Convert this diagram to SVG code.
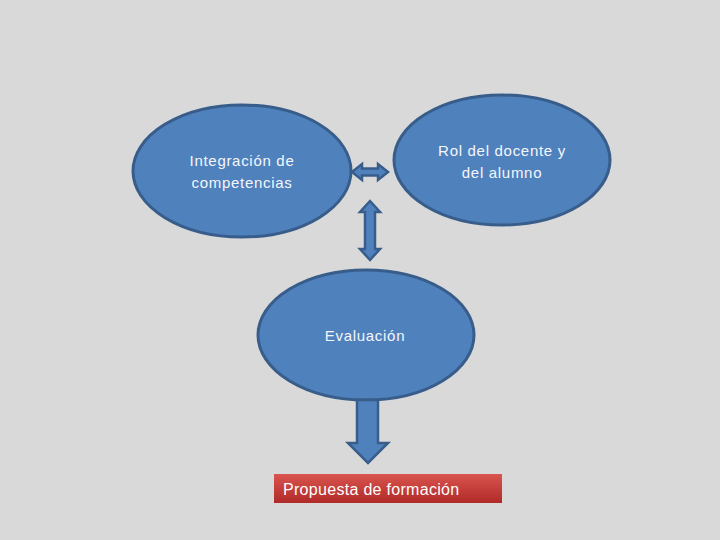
<svg xmlns="http://www.w3.org/2000/svg" width="720" height="540" viewBox="0 0 720 540">
<defs>
<linearGradient id="red" x1="0" y1="0" x2="0" y2="1">
<stop offset="0" stop-color="#d9534f"/>
<stop offset="1" stop-color="#b02a27"/>
</linearGradient>
<style>
.node{fill:#4f81bd;stroke:#385d8a;stroke-width:3}
.arr{fill:#4f81bd;stroke:#385d8a;stroke-width:2.5;stroke-linejoin:miter}
.t{font-family:"Liberation Sans",Arial,sans-serif;font-size:15px;fill:#f4f6fa;text-anchor:middle;letter-spacing:0.7px}
</style>
</defs>
<rect width="720" height="540" fill="#d9d9d9"/>
<g id="integracion">
<ellipse class="node" cx="242" cy="171" rx="109" ry="66"/>
<text class="t" x="242" y="166">Integración de</text>
<text class="t" x="242" y="188">competencias</text>
</g>
<g id="rol">
<ellipse class="node" cx="502" cy="160" rx="108" ry="65"/>
<text class="t" x="502" y="156">Rol del docente y</text>
<text class="t" x="502" y="178">del alumno</text>
</g>
<g id="evaluacion">
<ellipse class="node" cx="366" cy="335" rx="108" ry="65"/>
<text class="t" x="365" y="341">Evaluación</text>
</g>
<g id="propuesta">
<rect x="274" y="474" width="228" height="29" fill="url(#red)"/>
<text x="283" y="495" font-family="'Liberation Sans',Arial,sans-serif" font-size="16" letter-spacing="0.3" fill="#ffffff">Propuesta de formación</text>
</g>
<g id="connectors">
<path class="arr" d="M352,172 L362,164 L362,168.5 L378,168.5 L378,164 L388,172 L378,180 L378,175.5 L362,175.5 L362,180 Z"/>
<path class="arr" d="M370,201 L380,212 L375,212 L375,249 L380,249 L370,260 L360,249 L365,249 L365,212 L360,212 Z"/>
<path class="arr" d="M357,400 L378,400 L378,443 L388,443 L368,463 L348,443 L357,443 Z"/>
</g>
</svg>
